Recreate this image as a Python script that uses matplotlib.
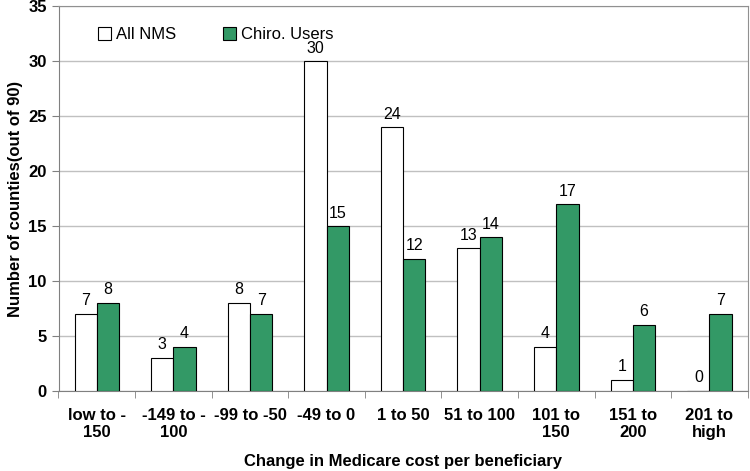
import numpy as np
import matplotlib
matplotlib.use("Agg")
import matplotlib.pyplot as plt

plt.rcParams['font.family'] = ['Liberation Sans', 'DejaVu Sans']

# data
categories = ["low to -\n150", "-149 to -\n100", "-99 to -50", "-49 to 0", "1 to 50",
              "51 to 100", "101 to\n150", "151 to\n200", "201 to\nhigh"]
all_nms = [7, 3, 8, 30, 24, 13, 4, 1, 0]
chiro_users = [8, 4, 7, 15, 12, 14, 17, 6, 7]
yticks = [0, 5, 10, 15, 20, 25, 30, 35]

green = '#339966'

fig = plt.figure(figsize=(7.5, 4.71), dpi=100)
ax = fig.add_axes([0.078, 0.170, 0.919, 0.817])

x = np.arange(len(categories))
w = 0.29
b1 = ax.bar(x - w/2, all_nms, w, color='white', edgecolor='black', linewidth=0.8,
            label='All NMS', zorder=3)
b2 = ax.bar(x + w/2, chiro_users, w, color=green, edgecolor='black', linewidth=0.8,
            label='Chiro. Users', zorder=3)

for rect, v in zip(b1, all_nms):
    ax.text(rect.get_x() + rect.get_width()/2, v + 0.5, str(v), ha='center', va='bottom', fontsize=11.5)
for rect, v in zip(b2, chiro_users):
    ax.text(rect.get_x() + rect.get_width()/2, v + 0.5, str(v), ha='center', va='bottom', fontsize=11.5)

ax.set_xlim(-0.5, len(categories) - 0.5)
ax.set_ylim(0, 35)
ax.set_yticks(yticks)
ax.set_yticklabels([str(t) for t in yticks], fontweight='bold', fontsize=12)
ax.yaxis.grid(True, color='#c0c0c0', linewidth=1, zorder=0)

ax.set_xticks(x)
ax.set_xticklabels(categories, fontweight='bold', fontsize=12)
ax.tick_params(axis='x', which='major', length=0, pad=12)
ax.set_xticks(np.arange(-0.5, len(categories)), minor=True)
ax.tick_params(axis='x', which='minor', length=5, color='#808080')
ax.tick_params(axis='y', length=5, color='#808080')

for s in ['top', 'right']:
    ax.spines[s].set_color('#909090')
ax.spines['left'].set_color('#808080')
ax.spines['bottom'].set_color('#808080')

ax.set_xlabel('Change in Medicare cost per beneficiary', fontweight='bold', fontsize=12, labelpad=10)
ax.set_ylabel('Number of counties(out of 90)', fontweight='bold', fontsize=12)

ax.legend(loc='upper left', bbox_to_anchor=(0.035, 0.985), ncol=2, frameon=False,
          fontsize=12, handlelength=0.8, handleheight=0.8, columnspacing=2.8, handletextpad=0.3)

fig.savefig('out.png', dpi=100)
